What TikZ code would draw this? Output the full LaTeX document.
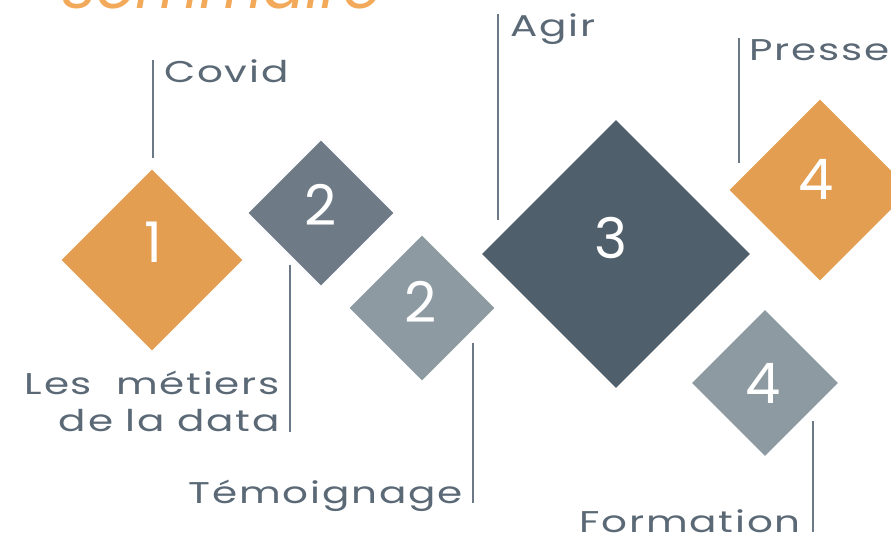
\documentclass[tikz,border=0pt]{standalone}
\usetikzlibrary{shapes.geometric}
\usepackage{fontspec}
\setmainfont{Poppins}
\newfontfamily\lblfont{Poppins}[LetterSpace=6, FakeStretch=1.35]
\newfontfamily\digfont{Poppins}
\definecolor{orng}{HTML}{E39E52}
\definecolor{dslate}{HTML}{4F5F6B}
\definecolor{mslate}{HTML}{6E7B87}
\definecolor{lslate}{HTML}{8E9AA2}
\definecolor{linecol}{HTML}{6B7885}
\definecolor{textcol}{HTML}{5A6975}
\definecolor{titlecol}{HTML}{F2A95A}
\begin{document}
\begin{tikzpicture}[x=1pt,y=-1pt,
  dia/.style={diamond, aspect=1, inner sep=0pt},
  dig/.style={inner sep=0pt, text=white, font=\digfont\fontsize{56}{56}\selectfont},
  lead/.style={draw=linecol, line width=1.3pt},
  lbl/.style={text=textcol, font=\lblfont\fontsize{30}{37}\selectfont, inner sep=0pt}]
\useasboundingbox (0,0) rectangle (891,537);
\clip (0,0) rectangle (891,537);
% title (cut off)
\node[anchor=base west, inner sep=0pt, text=titlecol, font=\itshape\fontsize{62}{62}\selectfont] (title) at (60,9) {Sommaire};
% diamonds
\node[dia, fill=orng, minimum width=181pt, minimum height=181pt] (d1) at (152,260) {};
\node[dia, fill=mslate, minimum width=145pt, minimum height=145pt] (d2a) at (321,213) {};
\node[dia, fill=lslate, minimum width=145pt, minimum height=145pt] (d2b) at (422,308) {};
\node[dia, fill=dslate, minimum width=268pt, minimum height=268pt] (d3) at (616,254) {};
\node[dia, fill=orng, minimum width=181pt, minimum height=181pt] (d4a) at (820,190) {};
\node[dia, fill=lslate, minimum width=146pt, minimum height=146pt] (d4b) at (765,383) {};
% numbers
\node[dig] (n1) at (153,242) {1};
\node[dig] (n2a) at (321,205) {2};
\node[dig] (n2b) at (421,302) {2};
\node[dig] (n3) at (611,238) {3};
\node[dig] (n4a) at (816,179) {4};
\node[dig] (n4b) at (763,383) {4};
% leader lines
\coordinate (c1a) at (153,60); \coordinate (c1b) at (153,158);
\coordinate (c2a) at (290,265); \coordinate (c2b) at (290,432);
\coordinate (c3a) at (473,343); \coordinate (c3b) at (473,503);
\coordinate (c4a) at (498,14); \coordinate (c4b) at (498,220);
\coordinate (c5a) at (739,38); \coordinate (c5b) at (739,163);
\coordinate (c6a) at (813,421); \coordinate (c6b) at (813,532);
\draw[lead] (c1a) -- (c1b);
\draw[lead] (c2a) -- (c2b);
\draw[lead] (c3a) -- (c3b);
\draw[lead] (c4a) -- (c4b);
\draw[lead] (c5a) -- (c5b);
\draw[lead] (c6a) -- (c6b);
% labels
\node[lbl, anchor=base west] (l1) at (164,83) {Covid};
\node[lbl, anchor=base east, align=right] (l2) at (280,431) {Les\hspace{24pt}métiers\\de la data};
\node[lbl, anchor=base east] (l3) at (463,503) {Témoignage};
\node[lbl, anchor=base west] (l4) at (510,37) {Agir};
\node[lbl, anchor=base west] (l5) at (749,61) {Presse};
\node[lbl, anchor=base east] (l6) at (801,532) {Formation};
\end{tikzpicture}
\end{document}
